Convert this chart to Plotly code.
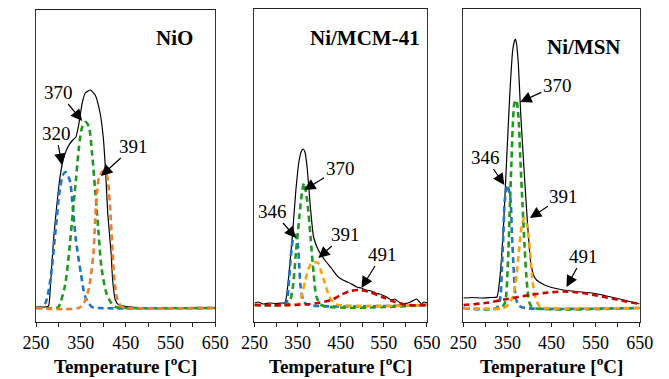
import plotly.graph_objects as go

W, H = 669, 379

# ---------------- data (temperature in degC, signal in arbitrary units) ----------------
temp_ticks = [250, 350, 450, 550, 650]
panel_titles = ["NiO", "Ni/MCM-41", "Ni/MSN"]
x_title = "Temperature [<sup>o</sup>C]"

# NiO
nio_total_T = [250, 270, 278, 282, 289, 296, 303.5, 310.6, 321, 332, 339, 346, 353, 360, 371, 382, 393, 400, 405.5, 410, 417.6, 421, 427, 435, 464, 550, 650]
nio_total_h = [1, 1, 2, 21, 68, 101, 131, 148, 161, 168, 171, 185, 205, 215, 218, 213, 195, 171, 135, 95, 55, 28, 8, 3, 1, 0, 0]
nio_p1_T = [250, 262, 271, 282, 293, 303, 310, 316, 325, 332, 339, 350, 360, 375, 390, 650]
nio_p1_h = [0, 1, 5, 28, 75, 118, 133, 136, 128, 101, 68, 35, 11, 1, 0, 0]
nio_p2_T = [250, 295, 300, 314, 325, 332, 339, 346, 353, 361, 368, 375, 382, 389, 396, 407, 418, 428, 445, 650]
nio_p2_h = [0, 0, 1, 21, 61, 95, 128, 161, 181, 186, 181, 155, 118, 78, 41, 15, 5, 1, 0, 0]
nio_p3_T = [250, 345, 357, 368, 378, 382, 386, 391, 400, 407, 411, 417, 421, 425, 432, 442, 455, 650]
nio_p3_h = [0, 0, 5, 20, 54, 88, 115, 131, 137, 134, 125, 88, 55, 28, 8, 1, 0, 0]
nio_labels = ["320", "370", "391"]
nio_label_T = [308, 353, 395]
nio_label_h = [143, 187, 132]

# Ni/MCM-41
mcm_total_T = [250, 259, 270, 285, 300, 315, 320, 324, 331.5, 339, 346, 353.7, 359, 363, 367, 372, 379.6, 387, 398, 413, 428, 442, 455, 465, 475, 487, 497, 509, 520, 531, 540, 546, 556, 568, 575, 585, 596, 605, 612, 626, 637, 643, 650]
mcm_total_h = [2, 3, 1, 2, 1.5, 2, 2, 8, 38, 75, 115, 145, 154, 156, 153, 138, 98, 68, 55, 45, 37, 29, 25, 23, 21, 18, 17, 15, 14, 12, 11, 10, 8, 5, 6, 3, 1, 2, 3, 6, 1, 3, 2]
mcm_p1_T = [250, 318, 324, 330, 335, 340, 345, 350, 354, 357, 365, 376, 650]
mcm_p1_h = [0, 0, 2, 25, 52, 67, 70, 62, 38, 18, 3, 0, 0]
mcm_p2_T = [250, 325, 331, 339, 346, 354, 360, 365, 372, 380, 387, 394, 405, 650]
mcm_p2_h = [0, 0, 2, 18, 52, 88, 112, 122, 105, 68, 32, 8, 0, 0]
mcm_p3_T = [250, 345, 354, 361, 368, 376, 383, 391, 398, 405, 413, 424, 435, 445, 650]
mcm_p3_h = [0, 0, 2, 12, 25, 37, 42, 43, 42, 33, 22, 8, 2, 0, 0]
mcm_p4_T = [250, 330, 380, 398, 428, 450, 472, 494, 517, 546, 576, 605, 650]
mcm_p4_h = [0, 0, 1, 2, 5, 10, 14, 15, 13, 8, 3, 0, 0]
mcm_labels = ["346", "370", "391", "491"]
mcm_label_T = [346, 365, 398, 498]
mcm_label_h = [67, 115, 47, 17]

# Ni/MSN
msn_total_T = [250, 270, 290, 310, 326, 333, 340.6, 347.8, 355, 362, 366, 368, 370, 374.6, 380, 387.7, 395, 402, 406, 409, 416, 426, 440, 460, 477, 506, 530, 549, 570, 585, 600, 614, 636, 650]
msn_total_h = [10, 10.5, 10, 10.5, 11, 31, 78, 145, 211, 258, 267, 269, 266, 245, 195, 138, 88, 48, 38, 33, 28, 25, 22, 19.5, 18, 16.5, 15.5, 14.5, 12.5, 11, 9.5, 8, 5.5, 4]
msn_p1_T = [250, 325, 333, 337, 341, 344, 350, 357, 360, 364.5, 369.6, 377, 390, 650]
msn_p1_h = [0, 0, 8, 36, 76, 108, 123, 108, 76, 36, 9, 2, 0, 0]
msn_p2_T = [250, 335, 344, 351, 355, 359, 362, 366, 370, 375, 379, 384, 389, 395, 402, 412, 650]
msn_p2_h = [0, 0, 5, 45, 95, 145, 181, 205, 208, 191, 151, 105, 61, 21, 3, 0, 0]
msn_p3_T = [250, 340, 351, 362, 370, 377, 382, 388, 395, 401, 406, 413, 424, 435, 650]
msn_p3_h = [0, 0, 3, 11, 31, 61, 81, 90, 81, 58, 31, 11, 1, 0, 0]
msn_p4_T = [250, 300, 350, 400, 433, 477, 520, 564, 608, 650]
msn_p4_h = [3, 5, 9, 13, 15, 16.5, 15, 11.5, 7.5, 4]
msn_labels = ["346", "370", "391", "491"]
msn_label_T = [343, 379, 401, 484]
msn_label_h = [123, 206, 90, 21]

# ---------------- styling / layout ----------------
BLUE = "#1f74c4"
GREEN = "#1e9a1e"
ORANGE1 = "#ed7d31"
ORANGE2 = "#ffa20a"
RED = "#c80000"
FONT = "Liberation Serif"
FS = 19
FS_TICK = 18
FS_BOLD = 21
FS_XT = 19

panels_px = [(23, 210, 10), (251, 431, 9), (469, 653, 9)]
axis_px = 322
y_ranges = [(-14, 298), (-17, 296), (-14, 299)]

panel_series = [
    [(nio_total_T, nio_total_h, "black", None),
     (nio_p1_T, nio_p1_h, BLUE, "dash"),
     (nio_p2_T, nio_p2_h, GREEN, "dash"),
     (nio_p3_T, nio_p3_h, ORANGE1, "dash")],
    [(mcm_total_T, mcm_total_h, "black", None),
     (mcm_p1_T, mcm_p1_h, BLUE, "dash"),
     (mcm_p2_T, mcm_p2_h, GREEN, "dash"),
     (mcm_p3_T, mcm_p3_h, ORANGE2, "dash"),
     (mcm_p4_T, mcm_p4_h, RED, "dash")],
    [(msn_total_T, msn_total_h, "black", None),
     (msn_p1_T, msn_p1_h, BLUE, "dash"),
     (msn_p2_T, msn_p2_h, GREEN, "dash"),
     (msn_p3_T, msn_p3_h, ORANGE2, "dash"),
     (msn_p4_T, msn_p4_h, RED, "dash")],
]
panel_labels = [
    (nio_labels, nio_label_T, nio_label_h, [(-6, -32), (-24, -29), (33, -30)]),
    (mcm_labels, mcm_label_T, mcm_label_h, [(-23, -27), (36, -22), (27, -24), (21, -34)]),
    (msn_labels, msn_label_T, msn_label_h, [(-19, -28), (37, -17), (34, -22), (17, -31)]),
]
title_px = [(168, 38), (366, 38), (595, 47)]

fig = go.Figure()
annotations = []
layout = dict(width=W, height=H, margin=dict(l=0, r=0, t=0, b=0),
              paper_bgcolor="white", plot_bgcolor="white", showlegend=False)

for i in range(3):
    sfx = "" if i == 0 else str(i + 1)
    xa, ya = "x" + sfx, "y" + sfx
    x0, x1, top = panels_px[i]
    for T, h, col, dash in panel_series[i]:
        if dash is None:
            line = dict(color=col, width=1.2, shape="spline", smoothing=0.5)
        else:
            line = dict(color=col, width=2.6, dash="6px,4px", shape="spline", smoothing=0.8)
        fig.add_trace(go.Scatter(x=T, y=h, mode="lines", line=line, xaxis=xa, yaxis=ya,
                                 hoverinfo="skip"))
    dom_x = [x0 / W, x1 / W]
    dom_y = [1 - axis_px / H, 1 - top / H]
    layout["xaxis" + sfx] = dict(domain=dom_x, anchor=ya, range=[250, 650],
                                 tickvals=temp_ticks, ticks="outside", ticklen=4,
                                 tickwidth=1.3, tickcolor="#222",
                                 minor=dict(tickvals=[300, 400, 500, 600], ticks="outside",
                                            ticklen=4, tickwidth=1.1, tickcolor="#222"),
                                 showline=True, linecolor="#222", linewidth=1.3, mirror=True,
                                 showgrid=False, zeroline=False,
                                 tickfont=dict(family=FONT, size=FS_TICK, color="black"))
    layout["yaxis" + sfx] = dict(domain=dom_y, anchor=xa, range=list(y_ranges[i]),
                                 showline=True, linecolor="#333", linewidth=1, mirror=True,
                                 showticklabels=False, ticks="", showgrid=False, zeroline=False)
    # inside part of the crossing major ticks
    ov = "xaxis" + str(i + 4)
    layout[ov] = dict(overlaying=xa, anchor=ya, range=[250, 650], tickvals=temp_ticks,
                      ticks="inside", ticklen=4, tickwidth=1.3, tickcolor="#222",
                      showticklabels=False, showline=False, showgrid=False, zeroline=False)
    # panel title
    tx, ty = title_px[i]
    annotations.append(dict(text="<b>%s</b>" % panel_titles[i], xref="paper", yref="paper",
                            x=tx / W, y=1 - ty / H, xanchor="center", yanchor="middle",
                            showarrow=False, font=dict(family=FONT, size=FS_BOLD, color="black")))
    # x-axis title
    annotations.append(dict(text="<b>%s</b>" % x_title, xref=xa + " domain", yref="paper",
                            x=0.5, y=0, xanchor="center", yanchor="bottom",
                            showarrow=False, font=dict(family=FONT, size=FS_XT, color="black")))
    # peak labels with arrows
    labs, lT, lh, offs = panel_labels[i]
    for lab, t, hh, (ax, ay) in zip(labs, lT, lh, offs):
        annotations.append(dict(text=lab, x=t, y=hh, xref=xa, yref=ya, ax=ax, ay=ay,
                                showarrow=True, arrowhead=2, arrowsize=1.9, arrowwidth=1.2,
                                arrowcolor="black", standoff=0,
                                font=dict(family=FONT, size=FS, color="black")))

layout["annotations"] = annotations
fig.update_layout(**layout)
fig.write_html("out.html")
